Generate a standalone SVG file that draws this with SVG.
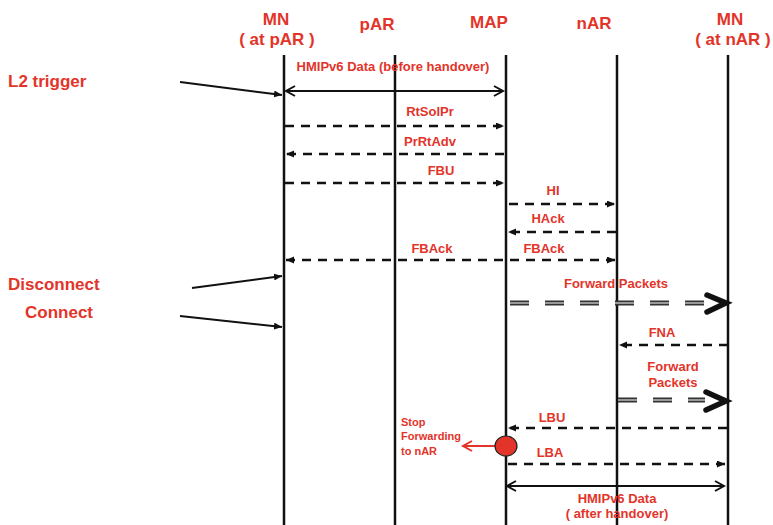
<svg xmlns="http://www.w3.org/2000/svg" width="773" height="525" viewBox="0 0 773 525">
<style>
.hd{font-family:"Liberation Sans",Arial,sans-serif;font-weight:bold;font-size:17px;fill:#e3342a;text-anchor:middle}
.side{font-family:"Liberation Sans",Arial,sans-serif;font-weight:bold;font-size:17px;fill:#e3342a}
.lb{font-family:"Liberation Sans",Arial,sans-serif;font-weight:bold;font-size:13px;fill:#e3342a;text-anchor:middle}
.sm{font-family:"Liberation Sans",Arial,sans-serif;font-weight:bold;font-size:11px;fill:#e3342a}
.life{stroke:#111;stroke-width:2.5}
.dash{stroke:#111;stroke-width:2.3;stroke-dasharray:9 7;fill:none}
.solid{stroke:#111;stroke-width:2;fill:none}
.fwd{stroke:#333;stroke-width:5;stroke-dasharray:19 16;fill:none}
.fwdin{stroke:#fff;stroke-width:1.1;stroke-dasharray:19 16;fill:none}
.chev{stroke:#111;stroke-width:5.5;fill:none;stroke-linecap:round;stroke-linejoin:miter}
</style>
<defs>
<marker id="arr" markerUnits="userSpaceOnUse" markerWidth="9" markerHeight="8" refX="8" refY="3.5" orient="auto-start-reverse">
<path d="M0,0 L8,3.5 L0,7 z" fill="#111"/>
</marker>
<marker id="open" markerUnits="userSpaceOnUse" markerWidth="14" markerHeight="14" refX="10" refY="6" orient="auto-start-reverse" overflow="visible">
<path d="M1,1 L10,6 L1,11" fill="none" stroke="#111" stroke-width="2"/>
</marker>
<marker id="ropen" markerUnits="userSpaceOnUse" markerWidth="14" markerHeight="14" refX="10" refY="6" orient="auto-start-reverse" overflow="visible">
<path d="M1,1 L10,6 L1,11" fill="none" stroke="#e3342a" stroke-width="2"/>
</marker>
</defs>

<g id="node-mn-par">
<text class="hd" x="276" y="25">MN</text>
<text class="hd" x="277" y="45">( at pAR )</text>
<line class="life" x1="284" y1="55" x2="284" y2="525"/>
</g>
<g id="node-par">
<text class="hd" x="377" y="30">pAR</text>
<line class="life" x1="395" y1="55" x2="395" y2="525"/>
</g>
<g id="node-map">
<text class="hd" x="489" y="28">MAP</text>
<line class="life" x1="506" y1="55" x2="506" y2="525"/>
</g>
<g id="node-nar">
<text class="hd" x="594" y="29">nAR</text>
<line class="life" x1="617" y1="55" x2="617" y2="525"/>
</g>
<g id="node-mn-nar">
<text class="hd" x="730" y="25">MN</text>
<text class="hd" x="733" y="45">( at nAR )</text>
<line class="life" x1="728" y1="55" x2="728" y2="525"/>
</g>

<g id="side-labels">
<text class="side" x="8" y="87">L2 trigger</text>
<text class="side" x="8" y="290">Disconnect</text>
<text class="side" x="25" y="318">Connect</text>
</g>

<g id="labels">
<text class="lb" x="393" y="71">HMIPv6 Data (before handover)</text>
<text class="lb" x="430" y="116">RtSolPr</text>
<text class="lb" x="430" y="146">PrRtAdv</text>
<text class="lb" x="441" y="175">FBU</text>
<text class="lb" x="553" y="195">HI</text>
<text class="lb" x="548" y="223">HAck</text>
<text class="lb" x="432" y="253">FBAck</text>
<text class="lb" x="544" y="253">FBAck</text>
<text class="lb" x="616" y="288">Forward Packets</text>
<text class="lb" x="662" y="337">FNA</text>
<text class="lb" x="673" y="371">Forward</text>
<text class="lb" x="673" y="387">Packets</text>
<text class="lb" x="552" y="422">LBU</text>
<text class="lb" x="550" y="457">LBA</text>
<text class="lb" x="617" y="503">HMIPv6 Data</text>
<text class="lb" x="617" y="518">( after handover)</text>
<text class="sm" x="401" y="426">Stop</text>
<text class="sm" x="401" y="440">Forwarding</text>
<text class="sm" x="401" y="455">to nAR</text>
</g>

<g id="connectors">
<line class="solid" x1="180" y1="82" x2="282" y2="95" marker-end="url(#arr)"/>
<line class="solid" x1="192" y1="288" x2="282" y2="276" marker-end="url(#arr)"/>
<line class="solid" x1="180" y1="316" x2="282" y2="327" marker-end="url(#arr)"/>

<line class="solid" x1="286" y1="91" x2="503" y2="91" marker-start="url(#open)" marker-end="url(#open)"/>
<line class="dash" x1="285" y1="126" x2="504" y2="126" marker-end="url(#arr)"/>
<line class="dash" x1="504" y1="154" x2="286" y2="154" marker-end="url(#arr)"/>
<line class="dash" x1="285" y1="183" x2="504" y2="183" marker-end="url(#arr)"/>
<line class="dash" x1="509" y1="204" x2="615" y2="204" marker-end="url(#arr)"/>
<line class="dash" x1="616" y1="232" x2="508" y2="232" marker-end="url(#arr)"/>
<line class="dash" x1="286" y1="260" x2="615" y2="260" marker-start="url(#arr)" marker-end="url(#arr)"/>

<line class="fwd" x1="510" y1="303" x2="706" y2="303"/>
<line class="fwdin" x1="510" y1="303" x2="706" y2="303"/>
<polyline class="chev" points="707,295 726,303 707,312"/>

<line class="dash" x1="728" y1="345" x2="619" y2="345" marker-end="url(#arr)"/>

<line class="fwd" x1="618" y1="400" x2="705" y2="400"/>
<line class="fwdin" x1="618" y1="400" x2="705" y2="400"/>
<polyline class="chev" points="706,392 726,401 706,410"/>

<line class="dash" x1="727" y1="428" x2="508" y2="428" marker-end="url(#arr)"/>
<line class="dash" x1="508" y1="464" x2="725" y2="464" marker-end="url(#arr)"/>
<line class="solid" x1="507" y1="486" x2="724" y2="486" marker-start="url(#open)" marker-end="url(#open)"/>

<line x1="495" y1="446" x2="463" y2="446" stroke="#e3342a" stroke-width="2" marker-end="url(#ropen)"/>
<ellipse cx="506" cy="446" rx="11" ry="10" fill="#e3342a" stroke="#222" stroke-width="1.2"/>
</g>
</svg>
